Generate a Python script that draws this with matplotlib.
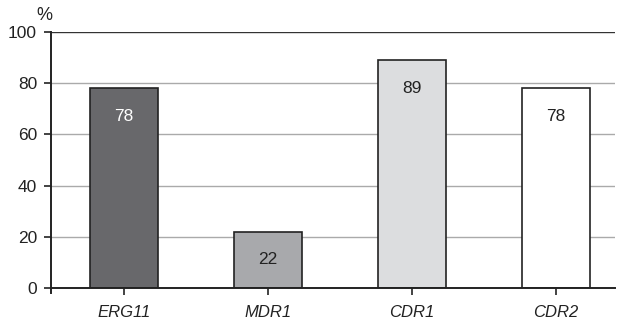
import matplotlib
matplotlib.use("Agg")
import matplotlib.pyplot as plt

genes = ["ERG11", "MDR1", "CDR1", "CDR2"]
percent = [78, 22, 89, 78]
bar_colors = ["#68686b", "#a8a9ac", "#dcdddf", "#ffffff"]
label_colors = ["white", "#222222", "#222222", "#222222"]
yticks = [0, 20, 40, 60, 80, 100]

plt.rcParams['font.family'] = ['Liberation Sans', 'DejaVu Sans']

fig = plt.figure(figsize=(6.25, 3.2), dpi=100)
ax = fig.add_axes([0.0816, 0.1, 0.9024, 0.8])

x = list(range(len(genes)))
ax.bar(x, percent, width=0.47, color=bar_colors, edgecolor="#222222", linewidth=1.2, zorder=3)

for xi, v, c in zip(x, percent, label_colors):
    ax.text(xi, v - 11, str(v), ha="center", va="center", fontsize=12.5, color=c, zorder=4)

# gridlines
for yv in yticks[1:-1]:
    ax.axhline(yv, color="#aaaaaa", linewidth=1.0, zorder=1)
ax.axhline(100, color="#333333", linewidth=1.0, zorder=1)

ax.set_xlim(-0.507, 3.41)
ax.set_ylim(0, 100)
ax.set_yticks(yticks)
ax.set_xticks(x)
ax.set_xticklabels(genes, fontstyle="italic", fontsize=12, color="#222222")
ax.tick_params(axis="y", labelsize=12.5, colors="#222222", length=5, width=1.2, direction="out", pad=5)
ax.tick_params(axis="x", length=5, width=1.2, direction="out", pad=7, colors="#222222")

for s in ["top", "right"]:
    ax.spines[s].set_visible(False)
for s in ["left", "bottom"]:
    ax.spines[s].set_color("#222222")
    ax.spines[s].set_linewidth(1.4)
ax.spines["left"].set_bounds(-2, 100)
ax.spines["bottom"].set_zorder(5)

ax.text(-0.012, 1.03, "%", transform=ax.transAxes, fontsize=13, color="#222222", ha="center", va="bottom")

fig.savefig("out.png", dpi=100)
